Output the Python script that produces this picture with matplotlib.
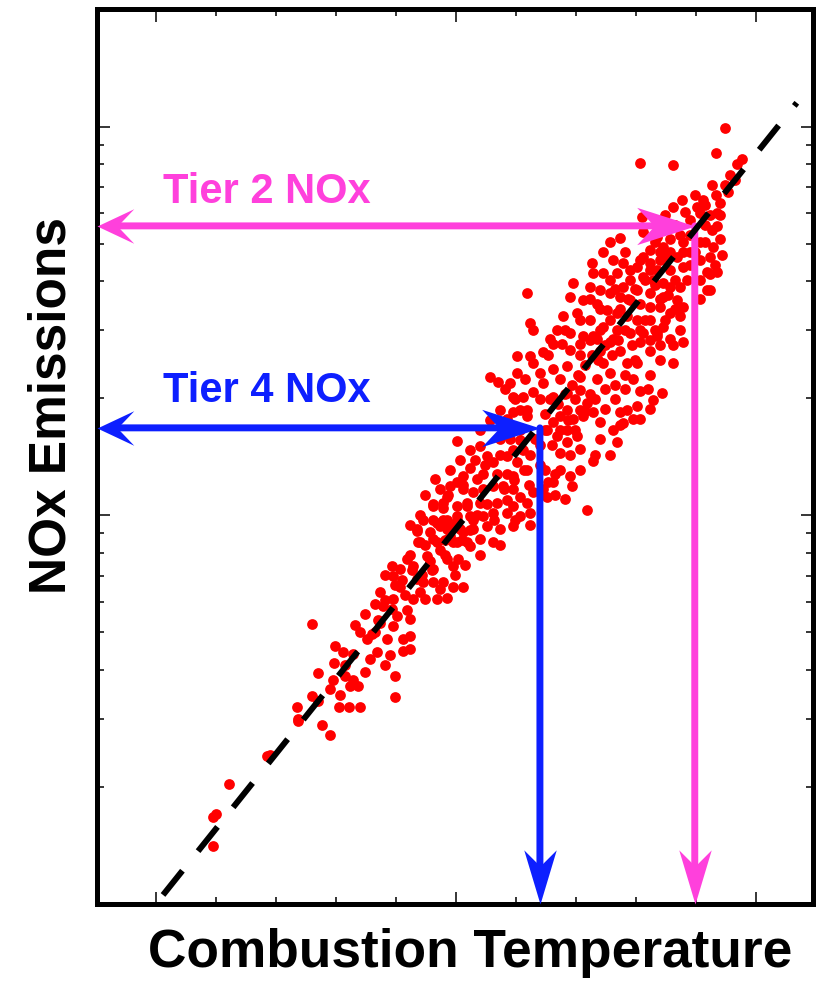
import matplotlib.pyplot as plt
import numpy as np
from matplotlib.path import Path
from matplotlib.ticker import MultipleLocator, LogLocator

plt.rcParams['font.family'] = ['Liberation Sans', 'DejaVu Sans']

# measured points (temperature in arbitrary units, NOx on a log scale)
temp = [
    0.95, 0.95, 1.00, 1.22, 1.85, 1.90, 2.37, 2.77, 2.90,
    2.60, 3.98, 3.98, 3.40, 3.22, 3.05, 2.35, 2.37, 2.60, 2.70,
    2.97, 2.98, 3.15, 3.23, 3.37, 3.48, 3.28, 3.40, 3.52, 3.68,
    3.65, 3.73, 3.85, 3.95, 4.12, 4.23, 4.12, 3.78, 3.73, 3.95,
    4.02, 3.93, 3.95, 4.07, 4.18, 4.28, 4.23, 4.40, 4.45, 4.18,
    4.28, 4.35, 4.35, 4.37, 4.52, 4.62, 4.68, 4.85, 4.62, 4.78,
    4.95, 5.12, 4.95, 5.03, 4.85, 4.73, 4.62, 4.68, 4.62, 4.78,
    4.73, 4.90, 5.02, 5.12, 5.23, 5.28, 5.18, 5.02, 4.85,
    7.18, 6.93, 6.90, 6.65, 6.53, 6.73, 7.32, 7.28, 7.40, 7.62,
    7.68, 7.78, 7.73, 7.95, 7.85, 8.02, 8.28, 8.43, 8.07, 7.95,
    7.85, 8.02, 8.23, 8.35, 8.62, 8.62, 7.73, 7.62, 8.07, 5.57,
    5.70, 6.02, 6.02, 5.90, 6.23, 6.28, 6.45, 6.62, 6.77, 7.07,
    7.28, 7.40, 7.45, 7.57, 7.35, 7.07, 6.85, 6.62, 6.45, 6.28,
    6.12, 5.95, 6.18, 6.40, 6.62, 6.85, 7.07, 7.18, 7.07, 6.85,
    6.73, 6.95, 7.12, 7.28, 6.85, 7.02, 6.85, 6.68, 6.52, 6.62,
    6.07, 6.18, 5.95, 5.85, 5.02, 5.23, 5.40, 5.52, 5.62, 5.85,
    5.95, 6.07, 6.12, 6.02, 6.18, 5.95, 5.85, 5.68, 5.45, 5.35,
    5.23, 5.12, 5.02, 4.90, 4.73, 4.85, 5.12, 5.28, 5.45, 5.62,
    5.78, 5.95, 6.07, 5.85, 5.68, 5.40, 5.18, 5.02, 4.78, 4.62,
    4.78, 5.02, 5.23, 5.45, 5.62, 5.85, 5.95, 6.18, 6.28, 6.45,
    6.62, 4.35, 4.57, 4.85, 5.07, 5.28, 5.52, 5.73, 5.95, 6.07,
    6.23, 4.40, 4.68, 4.95, 5.18, 5.40, 5.62, 6.52,
    9.48, 9.33, 8.07, 8.62, 9.68, 9.77, 9.53, 9.33, 9.12, 9.02,
    9.07, 8.77, 8.62, 8.90, 8.10, 9.35, 9.35, 9.40, 9.28, 9.23,
    9.18, 9.35, 9.23, 8.12, 8.35, 8.45, 8.57, 8.78, 8.78, 8.68,
    8.52, 8.40, 8.23, 8.12, 8.23, 8.35, 8.57, 8.78, 8.85, 8.73,
    8.57, 8.45, 8.28, 8.12, 8.02, 7.57, 7.73, 7.45, 7.27, 7.28,
    7.62, 7.78, 7.68, 7.57, 7.45, 7.90, 7.78, 8.02, 8.23, 8.45,
    8.68, 8.78, 8.73, 8.57, 8.40, 8.23, 8.07, 7.90, 7.73, 7.57,
    7.40, 7.23, 6.95, 6.90, 7.12, 7.35, 7.52, 7.68, 7.85, 8.02,
    8.23, 8.45, 8.73, 8.78, 8.57, 8.35, 8.12, 7.90, 7.68, 7.45,
    7.23, 7.02, 6.78, 6.68, 6.90, 7.12, 7.35, 7.57, 6.57, 6.23,
    6.28, 6.18, 9.23, 9.18,
    6.48, 6.57, 6.70, 6.82, 6.93, 7.03, 7.15, 7.27, 7.37, 7.48,
    7.60, 7.70, 7.82, 7.93, 8.15, 8.32, 8.40, 8.53, 8.65, 8.90,
    8.98, 9.07, 9.15, 8.90, 8.65, 8.40, 8.48, 8.82, 8.32, 8.07,
    7.82, 7.90, 7.65, 7.40, 7.23, 7.07, 6.82, 6.53, 6.40, 6.73,
    6.98, 7.23, 7.48, 7.65, 7.82, 8.23, 8.40, 7.40, 7.57, 6.40,
    6.32, 6.23, 6.40, 5.73, 5.57, 5.40, 5.73, 5.48, 5.32, 5.07,
    4.90, 4.65, 4.48, 4.40, 4.23, 4.48, 4.23, 4.07, 3.98, 3.82,
    3.65, 3.48, 3.32, 3.57, 3.15, 2.90, 3.07, 5.98, 6.23, 5.73,
    5.40, 5.15, 4.82, 4.57, 4.98, 4.73, 4.48, 4.23, 3.90, 3.82,
    6.73, 6.82, 7.07, 8.07, 8.23, 9.07, 9.40, 9.48, 9.27, 9.57, 9.65,
    3.82, 3.70, 3.60, 3.93, 4.15, 4.10, 4.27, 4.43, 4.60, 4.82,
    4.93, 5.10, 5.23, 5.35, 5.52, 5.63, 5.80, 5.97, 6.13, 6.22,
    6.07, 5.90, 6.48, 6.60, 6.73, 6.87, 6.98, 7.15, 7.32, 6.90,
    7.07, 7.23, 7.40, 7.57, 7.73, 7.87, 7.98, 8.15, 8.32, 8.23,
    8.40, 8.57, 8.73, 8.90, 9.07, 9.07, 9.15, 9.27, 9.15, 8.98,
    9.23, 9.40, 9.43, 9.32, 8.07, 8.23, 8.48, 8.65, 8.40, 7.98,
    7.82, 7.65, 8.20, 7.48, 7.73, 7.07, 6.90, 6.48, 6.65, 5.73,
    5.12, 4.87, 4.62, 4.45, 5.98, 6.15, 5.82, 3.12, 3.28, 2.95, 2.70,
]
nox = [
    0.141, 0.167, 0.170, 0.204, 0.240, 0.242, 0.295, 0.289, 0.273,
    0.525, 0.340, 0.385, 0.322, 0.322, 0.321, 0.322, 0.299, 0.342, 0.394,
    0.418, 0.460, 0.385, 0.363, 0.363, 0.396, 0.439, 0.500, 0.480, 0.445,
    0.500, 0.530, 0.480, 0.518, 0.480, 0.452, 0.447, 0.583, 0.634, 0.608,
    0.550, 0.739, 0.697, 0.656, 0.572, 0.608, 0.488, 0.634, 0.673, 0.771,
    0.739, 0.685, 0.910, 0.852, 0.784, 0.727, 0.608, 0.613, 0.673, 0.673,
    0.656, 0.656, 0.739, 0.771, 0.771, 0.817, 0.867, 0.957, 1.056, 1.046,
    0.937, 0.883, 0.856, 0.905, 0.832, 0.971, 1.056, 0.971, 0.971,
    1.033, 1.189, 1.261, 1.281, 1.220, 1.444, 1.434, 1.383, 1.739, 1.658,
    1.546, 1.729, 1.841, 1.770, 1.871, 1.912, 1.983, 2.063, 2.094, 2.245,
    2.467, 2.467, 2.649, 2.940, 2.749, 2.467, 2.649, 2.840, 2.790, 2.275,
    2.205, 2.568, 2.326, 2.195, 2.568, 2.467, 2.628, 2.769, 2.769, 2.769,
    2.890, 2.649, 2.467, 2.326, 2.245, 2.275, 2.417, 2.377, 2.195, 2.073,
    2.023, 2.023, 1.871, 1.993, 2.023, 2.063, 2.104, 1.952, 1.871, 1.871,
    1.800, 1.770, 1.800, 1.841, 1.658, 1.597, 1.546, 1.597, 1.658, 1.739,
    1.871, 1.800, 1.841, 1.770, 1.556, 1.475, 1.505, 1.424, 1.373, 1.424,
    1.475, 1.566, 1.475, 1.373, 1.312, 1.261, 1.281, 1.281, 1.281, 1.240,
    1.322, 1.261, 1.220, 1.189, 1.168, 1.117, 1.168, 1.148, 1.168, 1.189,
    1.189, 1.168, 1.117, 1.097, 1.076, 1.076, 1.076, 1.056, 1.076, 0.971,
    0.971, 0.994, 0.994, 0.994, 1.015, 1.015, 1.056, 1.076, 1.148, 1.168,
    1.220, 0.920, 0.905, 0.920, 0.920, 0.920, 0.937, 0.920, 0.937, 0.994,
    1.015, 0.852, 0.852, 0.852, 0.852, 0.868, 0.852, 1.117,
    9.94, 8.58, 8.09, 7.96, 8.00, 8.25, 6.80, 6.68, 6.49, 6.23,
    6.01, 6.49, 6.23, 5.76, 5.87, 6.01, 5.54, 5.13, 4.92, 4.63,
    4.22, 4.22, 3.81, 5.35, 5.22, 4.92, 5.13, 5.04, 4.75, 4.63,
    4.63, 4.75, 4.83, 4.63, 4.45, 4.28, 4.28, 4.37, 4.04, 3.88,
    3.88, 3.97, 4.04, 4.11, 4.37, 5.04, 5.19, 4.75, 4.47, 4.21,
    4.54, 4.47, 4.21, 4.04, 4.21, 4.04, 3.88, 3.81, 3.74, 3.65,
    3.58, 3.44, 3.25, 3.32, 3.44, 3.44, 3.51, 3.58, 3.65, 3.74,
    3.81, 3.88, 3.97, 3.65, 3.58, 3.51, 3.38, 3.32, 3.25, 3.19,
    3.19, 3.06, 3.00, 2.79, 2.84, 2.89, 2.95, 2.95, 3.00, 3.06,
    3.19, 3.32, 3.25, 3.00, 2.95, 2.89, 2.84, 2.79, 2.84, 3.13,
    3.00, 3.74, 4.17, 3.81,
    1.82, 1.99, 1.93, 2.05, 2.17, 2.30, 2.44, 2.59, 2.51, 2.75,
    2.59, 2.83, 3.00, 2.75, 3.19, 3.00, 3.61, 3.70, 4.04, 4.42,
    4.77, 5.05, 5.60, 5.28, 5.60, 5.60, 5.94, 6.04, 5.05, 4.55,
    4.77, 4.29, 3.82, 3.39, 3.61, 3.19, 3.00, 2.59, 2.33, 2.24,
    1.99, 2.05, 2.11, 1.99, 2.11, 2.30, 2.51, 1.57, 1.43, 1.52,
    1.57, 1.43, 1.35, 1.87, 1.76, 1.66, 1.57, 1.35, 1.39, 1.39,
    1.31, 1.24, 1.13, 1.00, 0.947, 0.841, 0.793, 0.729, 0.664, 0.704,
    0.590, 0.556, 0.523, 0.428, 0.413, 0.358, 0.346, 0.976, 0.947, 0.841,
    0.793, 0.747, 0.793, 0.765, 0.704, 0.645, 0.608, 0.542, 0.438, 0.413,
    1.31, 1.10, 1.31, 1.77, 1.88, 3.61, 6.38, 7.09, 7.09, 7.52, 7.30,
    0.607, 0.539, 0.494, 0.573, 0.625, 0.680, 0.725, 0.704, 0.725, 0.866,
    0.947, 0.866, 0.918, 1.00, 1.07, 0.976, 1.166, 1.236, 1.31, 1.20,
    1.66, 1.57, 1.66, 1.52, 1.66, 1.76, 1.66, 1.86, 1.99, 2.66,
    2.59, 2.83, 3.00, 3.19, 3.39, 3.61, 3.82, 4.04, 3.92, 4.29,
    4.55, 4.77, 5.28, 4.77, 4.55, 4.04, 5.05, 5.44, 6.30, 6.67,
    5.94, 5.94, 4.68, 4.42, 3.00, 2.83, 3.19, 3.39, 2.75, 2.51,
    2.30, 2.17, 2.11, 1.88, 1.71, 1.48, 1.43, 1.31, 1.13, 1.43,
    1.20, 1.13, 1.07, 0.976, 1.99, 2.24, 2.11, 0.444, 0.378, 0.378, 0.332,
]

# trend line end points
fit_temp = [0.12, 10.68]
fit_nox = [0.1055, 11.53]

# emission tiers
tier_names = ["Tier 2 NOx", "Tier 4 NOx"]
tier_temp = [8.98, 6.40]
tier_nox = [5.56, 1.68]
tier_colors = ["#ff40dc", "#0d1fff"]
label_temp = 1.85
label_nox = [6.37, 1.96]

xmin, xmax = -0.98, 10.95
ymin, ymax = 0.1, 20.1


def head(dx, dy, width, notch):
    # arrow head with its tip at (0, 0) pointing along (dx, dy)
    px, py = -dy, dx
    verts = [(0, 0),
             (-dx + px * width, -dy + py * width),
             (-dx * notch, -dy * notch),
             (-dx - px * width, -dy - py * width),
             (0, 0)]
    return Path(verts, [Path.MOVETO, Path.LINETO, Path.LINETO, Path.LINETO, Path.CLOSEPOLY])


head_left = head(-1, 0, 0.47, 0.55)
head_right = head(1, 0, 0.32, 0.7)
head_down = head(0, -1, 0.30, 0.7)

fig = plt.figure(figsize=(8.17, 9.81), dpi=100)
ax = fig.add_axes([97 / 817, 1 - 904 / 981, 716 / 817, 895 / 981])

ax.scatter(temp, nox, s=60, c="#ff0000", linewidths=0, zorder=2)
ax.set_yscale("log")
ax.plot(fit_temp, fit_nox, color="black", lw=4.3, dashes=(5.2, 4.2), zorder=4)

for name, tx, ty, c, ly in zip(tier_names, tier_temp, tier_nox, tier_colors, label_nox):
    ax.annotate("", xy=(tx, ty), xytext=(xmin, ty),
                arrowprops=dict(arrowstyle="-", color=c, lw=5, shrinkA=12, shrinkB=26), zorder=3)
    ax.annotate("", xy=(tx, ymin), xytext=(tx, ty),
                arrowprops=dict(arrowstyle="-", color=c, lw=5, shrinkA=0, shrinkB=24), zorder=3)
    ax.plot(xmin, ty, marker=head_left, ms=53, color=c, mew=0, ls="none", clip_on=False, zorder=3)
    ax.plot(tx, ty, marker=head_right, ms=84, color=c, mew=0, ls="none", clip_on=False, zorder=3)
    ax.plot(tx, ymin, marker=head_down, ms=78, color=c, mew=0, ls="none", clip_on=False, zorder=3)
    ax.text(label_temp, ly, name, color=c, fontsize=30, fontweight="bold",
            ha="center", va="baseline", zorder=5)

ax.set_xlim(xmin, xmax)
ax.set_ylim(ymin, ymax)
ax.xaxis.set_major_locator(MultipleLocator(5))
ax.xaxis.set_minor_locator(MultipleLocator(1))
ax.yaxis.set_major_locator(LogLocator(base=10))
ax.yaxis.set_minor_locator(LogLocator(base=10, subs=np.arange(2, 10)))
ax.tick_params(which="both", direction="in", top=True, right=True,
               labelbottom=False, labelleft=False, width=1.1, color="black")
ax.tick_params(which="major", length=9)
ax.tick_params(which="minor", length=4.9)
for s in ax.spines.values():
    s.set_linewidth(3.6)

fig.text(470 / 817, 1 - 967 / 981, "Combustion Temperature", fontsize=38.3,
         fontweight="bold", ha="center", va="baseline")
fig.text(52 / 817, 1 - 405 / 981, "NOx Emissions", fontsize=37, fontweight="bold",
         rotation=90, ha="center", va="center")

fig.savefig("out.png", dpi=100)
